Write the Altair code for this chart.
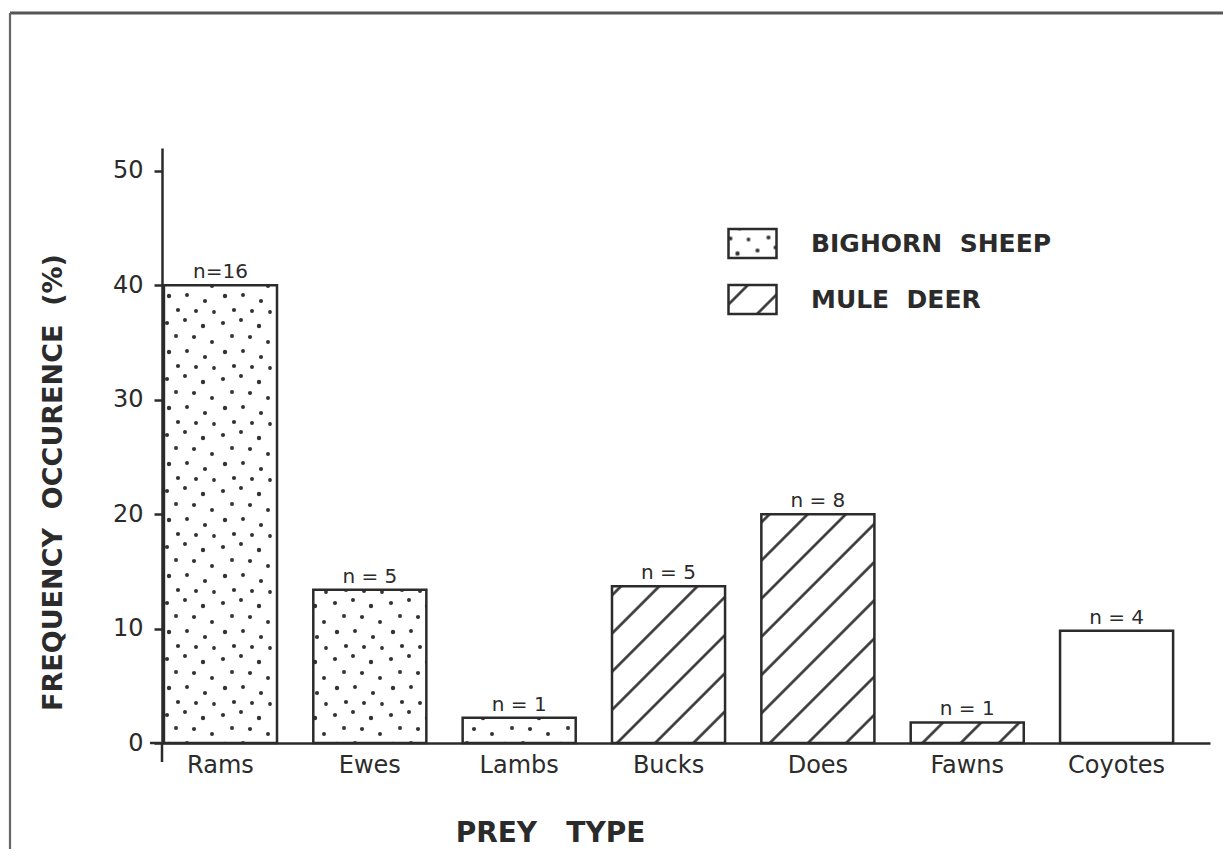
import altair as alt
import pandas as pd
import altair.utils.html as _html

# ---------------- data ----------------
categories = ["Rams", "Ewes", "Lambs", "Bucks", "Does", "Fawns", "Coyotes"]
frequency = [40.0, 13.4, 2.2, 13.7, 20.0, 1.8, 9.8]
sample_labels = ["n=16", "n = 5", "n = 1", "n = 5", "n = 8", "n = 1", "n = 4"]
prey_group = ["BIGHORN SHEEP", "BIGHORN SHEEP", "BIGHORN SHEEP",
              "MULE DEER", "MULE DEER", "MULE DEER", "COYOTE"]
group_order = ["BIGHORN SHEEP", "MULE DEER", "COYOTE"]
legend_groups = ["BIGHORN SHEEP", "MULE DEER"]
y_ticks = [0, 10, 20, 30, 40, 50]

df = pd.DataFrame({
    "prey": categories,
    "freq": frequency,
    "n": sample_labels,
    "group": prey_group,
})

# ---------------- fill textures (SVG patterns, style only) ----------------
PATTERN_DEFS = """<svg width="0" height="0" style="position:absolute;left:0;top:0" aria-hidden="true">
<defs>
<pattern id="hatch" patternUnits="userSpaceOnUse" width="27" height="27" patternTransform="rotate(45)">
<rect x="0" y="0" width="27" height="27" fill="#ffffff"/>
<line x1="13.5" y1="-2" x2="13.5" y2="29" stroke="#2b2b2b" stroke-width="2.5"/>
</pattern>
<pattern id="dots" patternUnits="userSpaceOnUse" width="56" height="56">
<rect x="0" y="0" width="56" height="56" fill="#ffffff"/>
<g fill="#333333">
<circle cx="5" cy="7" r="2.1"/><circle cx="23" cy="4" r="2.0"/><circle cx="41" cy="10" r="2.2"/>
<circle cx="14" cy="20" r="2.0"/><circle cx="32" cy="21" r="2.1"/><circle cx="50" cy="26" r="2.0"/>
<circle cx="7" cy="36" r="2.2"/><circle cx="25" cy="35" r="2.0"/><circle cx="43" cy="41" r="2.1"/>
<circle cx="16" cy="50" r="2.1"/><circle cx="34" cy="51" r="2.0"/><circle cx="52" cy="52" r="1.9"/>
</g>
</pattern>
</defs>
</svg>"""

_orig_template = _html.TEMPLATES["standard"]


class _TemplateWithPatterns:
    def render(self, *args, **kwargs):
        page = _orig_template.render(*args, **kwargs)
        if "<body>" in page:
            return page.replace("<body>", "<body>\n" + PATTERN_DEFS, 1)
        return page.replace("</head>", "</head>\n" + PATTERN_DEFS, 1)


_html.TEMPLATES["standard"] = _TemplateWithPatterns()

# ---------------- chart ----------------
INK = "#2b2b2b"
FONT = "DejaVu Sans"
W, H = 1048, 595

x_enc = alt.X(
    "prey:N",
    sort=categories,
    scale=alt.Scale(paddingInner=0.243, paddingOuter=0.13, align=0.05),
    axis=alt.Axis(
        labelAngle=0, ticks=False, tickSize=0, domainWidth=2.5, domainColor=INK,
        labelFont=FONT, labelFontSize=24, labelColor=INK, labelPadding=10,
        title="PREY\u00a0\u00a0\u00a0TYPE", titleFont=FONT, titleFontSize=28,
        titleFontWeight="bold", titleColor=INK, titleX=388, titleY=90,
        titleAlign="center", titleBaseline="middle",
    ),
)

y_enc = alt.Y(
    "freq:Q",
    scale=alt.Scale(domain=[0, 52], nice=False, zero=True),
    axis=alt.Axis(
        values=y_ticks, grid=False, tickSize=8, tickWidth=2.5, tickColor=INK,
        domainWidth=2.5, domainColor=INK,
        labelFont=FONT, labelFontSize=24, labelColor=INK, labelPadding=11,
        title="FREQUENCY\u00a0\u00a0OCCURENCE\u00a0\u00a0(%)", titleFont=FONT,
        titleFontSize=27, titleFontWeight="bold", titleColor=INK,
        titleX=-109, titleY=334, titleAngle=270,
        titleAlign="center", titleBaseline="middle",
    ),
)

bars = alt.Chart(df).mark_bar(stroke=INK, strokeWidth=2.5).encode(
    x=x_enc,
    y=y_enc,
    fill=alt.Fill(
        "group:N",
        scale=alt.Scale(domain=group_order,
                        range=["url(#dots)", "url(#hatch)", "#ffffff"]),
        legend=alt.Legend(
            title=None, values=legend_groups, orient="none",
            legendX=565, legendY=70, padding=0,
            symbolType="M-1,-0.6H1V0.6H-1Z", symbolSize=2304,
            symbolStrokeColor=INK, symbolStrokeWidth=2.5,
            labelFont=FONT, labelFontSize=25, labelFontWeight="bold",
            labelColor=INK, labelOffset=33, labelLimit=500, rowPadding=11,
            labelExpr="replace(datum.label, ' ', '\u00a0\u00a0')",
        ),
    ),
)

n_text = alt.Chart(df).mark_text(
    font=FONT, fontSize=20, color=INK, baseline="alphabetic", dy=-7
).encode(
    x=alt.X("prey:N", sort=categories),
    y=alt.Y("freq:Q"),
    text="n:N",
)

anchor = pd.DataFrame({"k": [0]})
axis_ext = alt.Chart(anchor).mark_rule(color=INK, strokeWidth=2.5).encode(
    x=alt.value(-12), x2=alt.value(0), y=alt.value(H)
) + alt.Chart(anchor).mark_rule(color=INK, strokeWidth=2.5).encode(
    x=alt.value(0), y=alt.value(H), y2=alt.value(H + 19)
)

frame = alt.Chart(anchor).mark_rule(color="#555555", strokeWidth=3).encode(
    x=alt.value(-152), x2=alt.value(1200), y=alt.value(-135)
) + alt.Chart(anchor).mark_rule(color="#666666", strokeWidth=2.2).encode(
    x=alt.value(-152), y=alt.value(-135), y2=alt.value(800)
)

chart = alt.layer(bars, n_text, axis_ext, frame).properties(
    width=W,
    height=H,
    autosize=alt.AutoSizeParams(type="none"),
    padding={"left": 154, "top": 140, "right": 13, "bottom": 106},
    background="#ffffff",
).configure_view(stroke=None)

chart.save("out.html", embed_options={"renderer": "svg", "actions": False})
